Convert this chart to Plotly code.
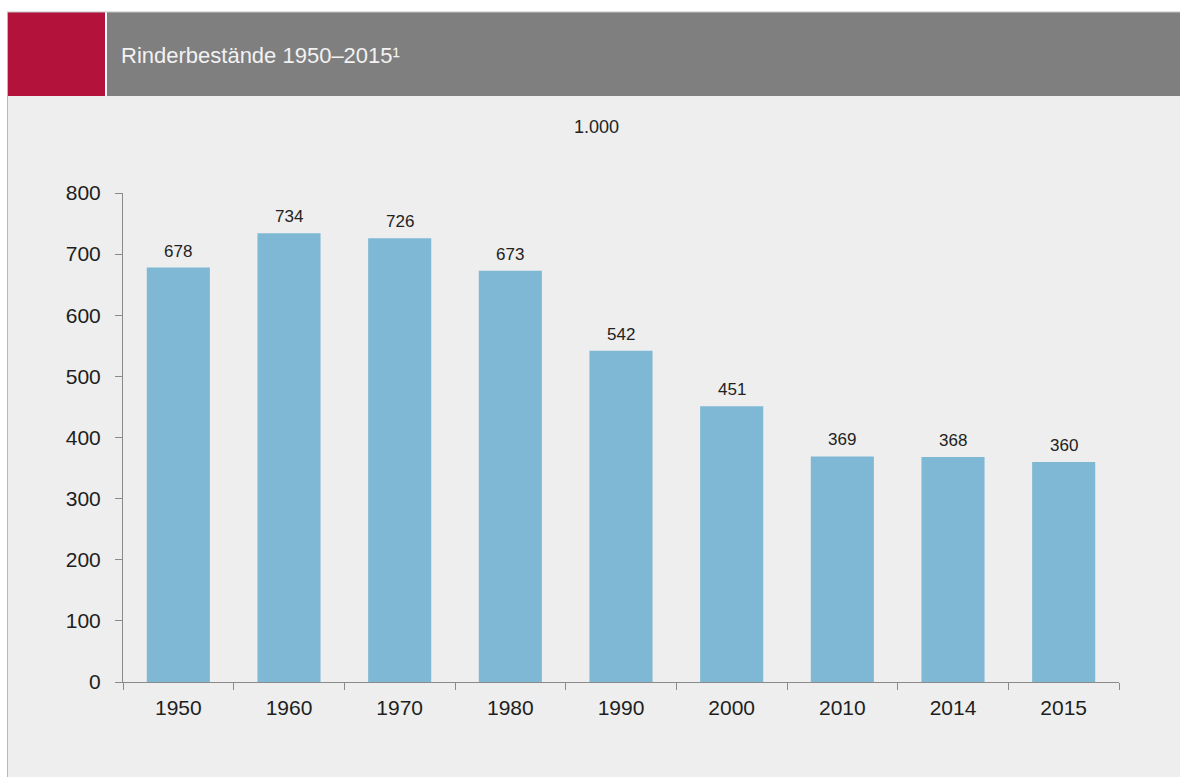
import plotly.graph_objects as go

# Rinderbestände in 1.000 Stück
years = ["1950", "1960", "1970", "1980", "1990", "2000", "2010", "2014", "2015"]
cattle = [678, 734, 726, 673, 542, 451, 369, 368, 360]
y_ticks = [0, 100, 200, 300, 400, 500, 600, 700, 800]

W, H = 1180, 777
FONT = "Liberation Sans, Arial, sans-serif"


def py(px):
    """pixel row -> paper y"""
    return 1 - px / H


def pxx(px):
    return px / W


fig = go.Figure()
fig.add_trace(go.Bar(
    x=years, y=cattle,
    marker=dict(color="#7fb8d4", line=dict(width=0)),
    hoverinfo="x+y",
))

# value labels above bars (category index positions)
for i, v in enumerate(cattle):
    fig.add_annotation(x=i, y=v, xref="x", yref="y", text=str(v), showarrow=False,
                       yanchor="bottom", yshift=5,
                       font=dict(family=FONT, size=17, color="#222222"))

shapes = [
    # panel background
    dict(type="rect", xref="paper", yref="paper", x0=pxx(7), x1=1.0,
         y0=0, y1=py(96), fillcolor="#edeeed", line=dict(width=0), layer="below"),
    dict(type="line", xref="paper", yref="paper", x0=pxx(7.5), x1=pxx(7.5),
         y0=0, y1=py(12), line=dict(color="#b8b8b8", width=1), layer="below"),
    # header bar
    dict(type="rect", xref="paper", yref="paper", x0=pxx(107), x1=1.0,
         y0=py(96), y1=py(12), fillcolor="#7f7f7f", line=dict(width=0), layer="below"),
    dict(type="rect", xref="paper", yref="paper", x0=pxx(8), x1=pxx(105),
         y0=py(96), y1=py(12), fillcolor="#b3123b", line=dict(width=0), layer="below"),
    dict(type="line", xref="paper", yref="paper", x0=pxx(7), x1=1.0,
         y0=py(12), y1=py(12), line=dict(color="#c4c4c4", width=1), layer="below"),
]

annotations_extra = [
    dict(xref="paper", yref="paper", x=pxx(119), y=py(55), xanchor="left",
         yanchor="middle", showarrow=False, text="Rinderbestände 1950–2015¹",
         font=dict(family=FONT, size=22, color="#f2f2f2")),
    dict(xref="paper", yref="paper", x=pxx(596), y=py(127), xanchor="center",
         yanchor="middle", showarrow=False, text="1.000",
         font=dict(family=FONT, size=18, color="#222222")),
]
for a in annotations_extra:
    fig.add_annotation(**a)

fig.update_layout(
    width=W, height=H,
    autosize=False,
    margin=dict(l=0, r=0, t=0, b=0, pad=0),
    paper_bgcolor="white",
    plot_bgcolor="rgba(0,0,0,0)",
    showlegend=False,
    bargap=0.43,
    shapes=shapes,
    font=dict(family=FONT, color="#222222"),
    xaxis=dict(
        domain=[pxx(123), pxx(1119)],
        type="category",
        range=[-0.5, len(years) - 0.5],
        automargin=False,
        tickangle=0,
        showline=True, linecolor="#8a8a8a", linewidth=1,
        ticks="outside", tickson="boundaries", ticklen=7, tickcolor="#8a8a8a",
        ticklabelstandoff=7,
        tickfont=dict(family=FONT, size=21, color="#1e1e1e"),
        showgrid=False, zeroline=False, fixedrange=True,
    ),
    yaxis=dict(
        domain=[py(682), py(193)],
        range=[0, 800],
        tickvals=y_ticks,
        automargin=False,
        showline=True, linecolor="#8a8a8a", linewidth=1,
        ticks="outside", ticklen=7, tickcolor="#8a8a8a",
        ticklabelstandoff=10,
        tickfont=dict(family=FONT, size=21, color="#1e1e1e"),
        showgrid=False, zeroline=False, fixedrange=True,
    ),
)

fig.write_html("out.html")
